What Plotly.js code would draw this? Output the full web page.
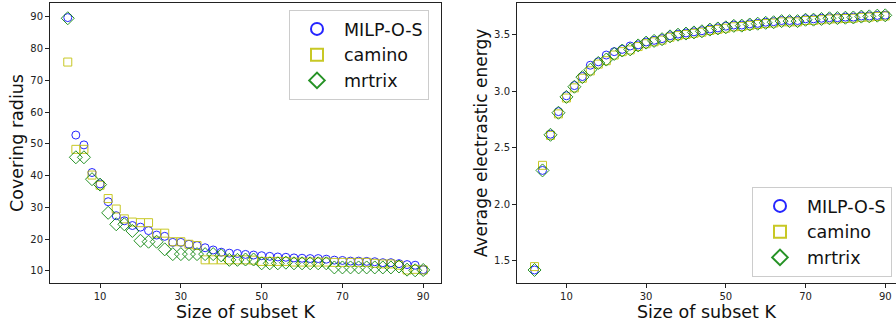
<!DOCTYPE html>
<html>
<head>
<meta charset="utf-8">
<script src="https://cdn.plot.ly/plotly-3.0.1.min.js"></script>
<style>html,body{margin:0;padding:0;background:#fff}#chart{width:896px;height:322px}</style>
</head>
<body>
<div id="chart"></div>
<script>
const K = [2,4,6,8,10,12,14,16,18,20,22,24,26,28,30,32,34,36,38,40,42,44,46,48,50,52,54,56,58,60,62,64,66,68,70,72,74,76,78,80,82,84,86,88,90];

const radiusMILP = [89.8,52.8,49.7,41.0,37.4,31.8,27.4,25.8,24.3,23.8,22.7,21.3,20.9,19.0,19.0,18.4,18.0,17.3,16.6,15.9,15.6,15.5,15.2,15.0,14.8,14.6,14.4,14.3,14.1,14.0,13.9,13.9,13.7,13.4,13.3,13.1,13.1,13.0,12.9,12.6,12.6,12.3,12.0,11.8,10.4];
const radiusCamino = [75.8,48.3,48.3,40.2,37.0,32.8,29.5,26.4,25.4,25.2,25.2,21.9,21.9,19.2,19.2,18.4,18.0,13.5,13.5,13.5,13.5,13.5,13.5,13.4,13.0,13.0,13.0,13.0,12.8,12.8,12.8,12.8,12.8,12.7,12.7,12.7,12.7,12.7,12.4,12.2,12.2,11.8,10.3,10.5,10.3];
const radiusMrtrix = [89.6,45.8,45.8,38.9,37.2,28.3,24.7,24.7,22.6,19.5,19.2,19.2,16.8,15.3,15.3,15.3,15.3,15.3,15.3,14.9,13.5,13.5,13.6,13.6,12.4,12.4,12.4,12.6,12.4,12.4,12.4,12.4,12.4,11.1,11.1,11.1,11.1,11.1,11.1,11.1,11.1,11.4,10.4,10.2,10.3];

const energyMILP = [1.42,2.30,2.62,2.82,2.96,3.05,3.13,3.23,3.26,3.32,3.35,3.37,3.40,3.41,3.435,3.45,3.465,3.49,3.505,3.515,3.525,3.535,3.55,3.56,3.575,3.585,3.585,3.595,3.60,3.61,3.615,3.625,3.625,3.625,3.64,3.64,3.645,3.65,3.65,3.655,3.655,3.665,3.665,3.67,3.672];
const energyCamino = [1.45,2.345,2.61,2.80,2.94,3.03,3.115,3.18,3.24,3.27,3.32,3.35,3.365,3.395,3.42,3.437,3.452,3.477,3.492,3.502,3.512,3.522,3.537,3.547,3.557,3.57,3.572,3.582,3.59,3.598,3.603,3.613,3.613,3.613,3.625,3.626,3.632,3.638,3.64,3.643,3.645,3.653,3.655,3.661,3.665];
const energyMrtrix = [1.42,2.30,2.615,2.81,2.95,3.04,3.125,3.19,3.25,3.28,3.33,3.36,3.37,3.405,3.43,3.445,3.46,3.485,3.50,3.51,3.52,3.53,3.545,3.555,3.565,3.578,3.58,3.59,3.597,3.605,3.61,3.62,3.62,3.62,3.632,3.633,3.639,3.645,3.647,3.65,3.652,3.66,3.662,3.668,3.671];

const seriesNames = ['MILP-O-S','camino','mrtrix'];
const xTicks = [10,30,50,70,90];
const yTicksLeft = [10,20,30,40,50,60,70,80,90];
const yTicksRight = [1.5,2.0,2.5,3.0,3.5];

const colors = ['#0000ff','#bfbf00','#008000'];
const symbols = ['circle-open','square-open','diamond-open'];
const sizes = [8,8,10];

function mk(y, i, xa, ya, leg) {
  return {
    x: K, y: y, type: 'scatter', mode: 'markers', name: seriesNames[i],
    xaxis: xa, yaxis: ya, legend: leg,
    marker: {symbol: symbols[i], size: sizes[i], color: colors[i], line: {width: 1, color: colors[i]}},
    opacity: 0.85
  };
}

const data = [
  mk(radiusMILP,0,'x','y','legend'),
  mk(radiusCamino,1,'x','y','legend'),
  mk(radiusMrtrix,2,'x','y','legend'),
  mk(energyMILP,0,'x2','y2','legend2'),
  mk(energyCamino,1,'x2','y2','legend2'),
  mk(energyMrtrix,2,'x2','y2','legend2')
];

const fontF = 'DejaVu Sans, sans-serif';
const axBase = {
  showline: true, linecolor: '#222', linewidth: 1, ticks: 'outside', ticklen: 4, tickwidth: 1,
  tickcolor: '#222', showgrid: false, zeroline: false, tickfont: {family: fontF, size: 10, color: '#222'}
};
const yDom = [1 - 283/322, 1 - 3/322];
const legBase = {
  font: {family: fontF, size: 17.5, color: '#111'}, bgcolor: 'rgba(255,255,255,0.85)',
  bordercolor: '#cccccc', borderwidth: 1, xanchor: 'left', yanchor: 'top',
  itemsizing: 'constant', traceorder: 'normal', itemwidth: 44
};
const titleFont = {family: fontF, size: 17.5, color: '#111'};

const layout = {
  width: 896, height: 322, margin: {l: 0, r: 0, t: 0, b: 0},
  paper_bgcolor: '#fff', plot_bgcolor: '#fff', showlegend: true,
  font: {family: fontF},
  xaxis: Object.assign({}, axBase, {domain: [50/896, 441/896], range: [-2.4, 94.4], mirror: true,
    tickvals: xTicks, title: {text: 'Size of subset K', font: titleFont, standoff: 2}, anchor: 'y'}),
  yaxis: Object.assign({}, axBase, {domain: yDom, range: [6.2, 94.4], mirror: true,
    tickvals: yTicksLeft, title: {text: 'Covering radius', font: titleFont, standoff: 2}, anchor: 'x'}),
  xaxis2: Object.assign({}, axBase, {domain: [517/896, 1], range: [-2.4, 92.7], mirror: true,
    tickvals: xTicks, title: {text: 'Size of subset K', font: titleFont, standoff: 2}, anchor: 'y2'}),
  yaxis2: Object.assign({}, axBase, {domain: yDom, range: [1.305, 3.78], mirror: false,
    tickvals: yTicksRight, tickformat: '.1f', title: {text: 'Average electrastic energy', font: {family: fontF, size: 17, color: '#111'}, standoff: 2}, anchor: 'x2'}),
  legend: Object.assign({}, legBase, {x: 289/896, y: 1 - 10/322}),
  legend2: Object.assign({}, legBase, {x: 752/896, y: 1 - 187/322})
};

Plotly.newPlot('chart', data, layout, {displayModeBar: false, staticPlot: true});
</script>
</body>
</html>
